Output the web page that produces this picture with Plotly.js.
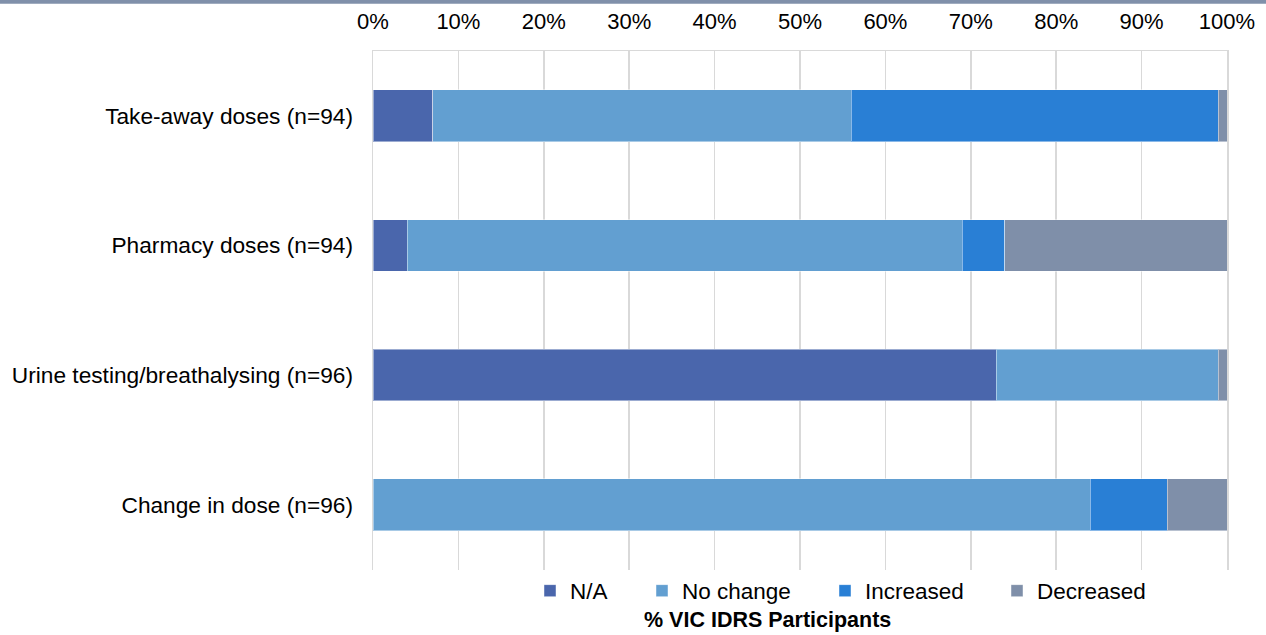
<!DOCTYPE html>
<html>
<head>
<meta charset="utf-8">
<script src="https://cdn.plot.ly/plotly-3.0.1.min.js"></script>
<style>html,body{margin:0;padding:0;background:#fff;}#chart{width:1266px;height:635px;}</style>
</head>
<body>
<div id="chart"></div>
<script>
const categories = ["Take-away doses (n=94)", "Pharmacy doses (n=94)", "Urine testing/breathalysing (n=96)", "Change in dose (n=96)"];
const seriesNames = ["N/A", "No change", "Increased", "Decreased"];
const naValues = [7, 4, 73, 0];
const noChangeValues = [49, 65, 26, 84];
const increasedValues = [43, 5, 0, 9];
const decreasedValues = [1, 26, 1, 7];
const xTickValues = [0, 10, 20, 30, 40, 50, 60, 70, 80, 90, 100];
const xTickLabels = ["0%", "10%", "20%", "30%", "40%", "50%", "60%", "70%", "80%", "90%", "100%"];
const xTitle = "% VIC IDRS Participants";

const colors = ["#4a66ac", "#629fd1", "#297fd5", "#7f8fa9"];
const values = [naValues, noChangeValues, increasedValues, decreasedValues];
const legendIds = ["legend", "legend2", "legend3", "legend4"];
const FONT = "'Liberation Sans', Arial, sans-serif";
const FS = 21.5;

const traces = values.map((v, i) => ({
  type: "bar",
  orientation: "h",
  name: seriesNames[i],
  x: v,
  y: categories,
  marker: {color: colors[i], line: {color: "rgba(255,255,255,0.45)", width: 1}},
  legend: legendIds[i],
  hoverinfo: "x+name"
}));

const W = 1266, H = 635;
const legendX = [530, 642, 825, 997];
const legendY = 1 - 591 / H;
const legends = {};
legendIds.forEach((id, i) => {
  legends[id] = {
    orientation: "h",
    xref: "container", yref: "container",
    x: legendX[i] / W, y: legendY,
    xanchor: "left", yanchor: "middle",
    font: {family: FONT, size: 22.5, color: "#000"},
    itemwidth: 30,
    bgcolor: "rgba(0,0,0,0)",
    borderwidth: 0
  };
});

const layout = Object.assign({
  width: W, height: H,
  margin: {l: 373, r: 39, t: 51, b: 63, pad: 0},
  paper_bgcolor: "#fff",
  plot_bgcolor: "#fff",
  barmode: "stack",
  bargap: 0.6,
  showlegend: true,
  font: {family: FONT, size: FS, color: "#000"},
  xaxis: {
    side: "top",
    range: [0, 100],
    tickmode: "array",
    tickvals: xTickValues,
    ticktext: xTickLabels,
    showgrid: true,
    gridcolor: "#d9d9d9",
    gridwidth: 1.5,
    zeroline: false,
    showline: true,
    linecolor: "#d9d9d9",
    linewidth: 1.5,
    ticks: "",
    ticklabelstandoff: 12,
    tickfont: {family: FONT, size: 22, color: "#000"},
    fixedrange: true
  },
  yaxis: {
    autorange: "reversed",
    type: "category",
    showgrid: false,
    showline: true,
    mirror: true,
    linecolor: "#d9d9d9",
    linewidth: 1.5,
    ticks: "",
    ticklabelstandoff: 14,
    tickfont: {family: FONT, size: 22.7, color: "#000"},
    fixedrange: true
  },
  annotations: [{
    text: "<b>" + xTitle + "</b>",
    xref: "paper", yref: "paper",
    x: (767.5 - 373) / 854, y: (572 - 623) / 521,
    xanchor: "center", yanchor: "middle",
    showarrow: false,
    font: {family: FONT, size: FS, color: "#000"}
  }],
  shapes: [{
    type: "rect",
    xref: "paper", yref: "paper",
    x0: -373 / 854, x1: (W - 373) / 854,
    y0: (572 - 3.5) / 521, y1: 572 / 521 + 0.01,
    fillcolor: "#8090aa",
    line: {width: 0},
    layer: "above"
  }]
}, legends);

Plotly.newPlot("chart", traces, layout, {displayModeBar: false, staticPlot: true});
</script>
</body>
</html>
